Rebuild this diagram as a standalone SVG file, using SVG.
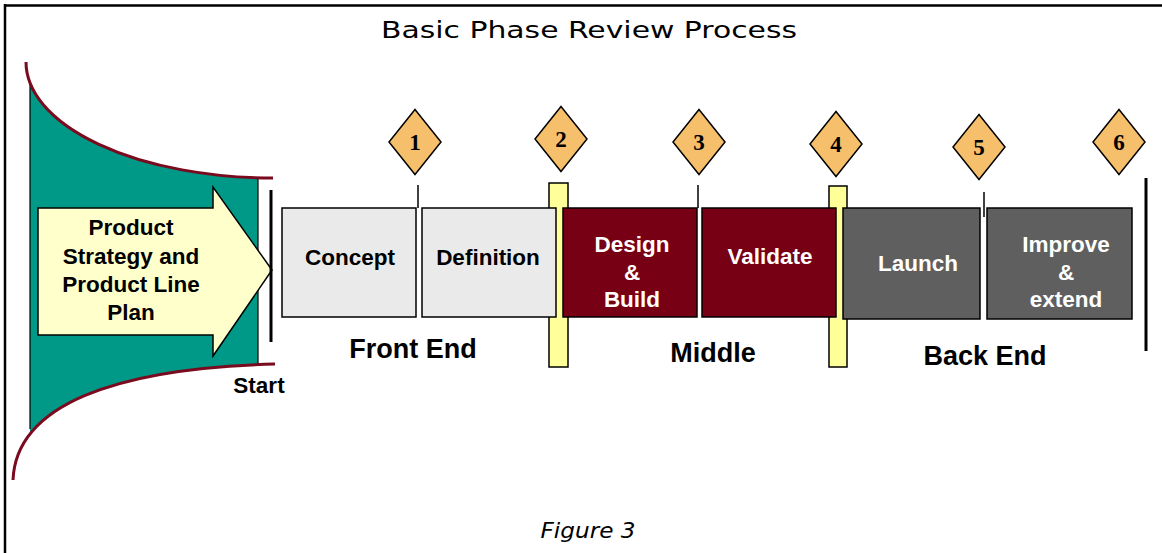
<svg xmlns="http://www.w3.org/2000/svg" width="1162" height="553" viewBox="0 0 1162 553">
<style>
.lbl{font-family:"Liberation Sans",Arial,sans-serif;font-weight:bold;font-size:22.5px;text-anchor:middle}
.sec{font-family:"Liberation Sans",Arial,sans-serif;font-weight:bold;font-size:27px;text-anchor:middle;fill:#000}
.num{font-family:"Liberation Serif","Times New Roman",serif;font-weight:bold;font-size:23px;text-anchor:middle;fill:#000}
.dia{fill:#F5BF6B;stroke:#000;stroke-width:1.5}
.bar{fill:#FFFF99;stroke:#000;stroke-width:1.5}
.grey{fill:#EAEAEA;stroke:#000;stroke-width:1.5}
.red{fill:#780014;stroke:#000;stroke-width:1.5}
.dark{fill:#5F5F5F;stroke:#000;stroke-width:1.5}
.tick{stroke:#000;stroke-width:1.5}
.curve{fill:none;stroke:#7A0A1E;stroke-width:3}
</style>
<defs>
<clipPath id="tealClip"><rect x="30" y="0" width="228" height="553"/></clipPath>
</defs>
<rect x="0" y="0" width="1162" height="553" fill="#fff"/>
<g id="frame">
<line x1="4" y1="5.5" x2="1162" y2="5.5" stroke="#000" stroke-width="2.5"/>
<line x1="5" y1="4" x2="5" y2="553" stroke="#000" stroke-width="2.5"/>
</g>
<text x="589" y="38" font-family="DejaVu Sans,Verdana,sans-serif" font-size="23.5" text-anchor="middle" textLength="416" lengthAdjust="spacingAndGlyphs">Basic Phase Review Process</text>
<g id="funnel">
<path d="M26,62 A247,116 0 0 0 273,178 L275,364 C115,368 16,405 13,480 Z" fill="#009886" clip-path="url(#tealClip)"/>
<line x1="30" y1="84" x2="30" y2="429" stroke="#000" stroke-width="1.2"/>
<line x1="258" y1="178" x2="258" y2="364" stroke="#000" stroke-width="1.2"/>
<path class="curve" d="M26,62 A247,116 0 0 0 273,178"/>
<path class="curve" d="M13,480 C16,405 115,368 275,364"/>
</g>
<g id="strategy">
<polygon points="38,208 213,208 213,187 272,270 213,356 213,335 38,335" fill="#FFFFCC" stroke="#000" stroke-width="1.5"/>
<text class="lbl" x="131" y="235">Product</text>
<text class="lbl" x="131" y="264">Strategy and</text>
<text class="lbl" x="131" y="292">Product Line</text>
<text class="lbl" x="131" y="320">Plan</text>
</g>
<g id="start">
<line x1="271" y1="190" x2="271" y2="342" stroke="#000" stroke-width="3"/>
<text class="lbl" x="259" y="393">Start</text>
</g>
<g id="end-line">
<line x1="1146" y1="178" x2="1146" y2="351" stroke="#000" stroke-width="3"/>
</g>
<g id="connectors">
<line class="tick" x1="418" y1="185" x2="418" y2="208"/>
<line class="tick" x1="698" y1="185" x2="698" y2="208"/>
<line class="tick" x1="984" y1="192" x2="984" y2="217"/>
</g>
<g id="gate2-bar"><rect class="bar" x="549" y="183" width="19" height="184"/></g>
<g id="gate4-bar"><rect class="bar" x="829" y="186" width="18" height="181"/></g>
<g id="concept">
<rect class="grey" x="282" y="208" width="134" height="109"/>
<text class="lbl" x="350" y="265" fill="#000">Concept</text>
</g>
<g id="definition">
<rect class="grey" x="422" y="208" width="134" height="109"/>
<text class="lbl" x="488" y="265" fill="#000">Definition</text>
</g>
<g id="design">
<rect class="red" x="563" y="208" width="134" height="109"/>
<text class="lbl" x="632" y="252" fill="#fff">Design</text>
<text class="lbl" x="632" y="280" fill="#fff">&amp;</text>
<text class="lbl" x="632" y="307" fill="#fff">Build</text>
</g>
<g id="validate">
<rect class="red" x="702" y="208" width="134" height="109"/>
<text class="lbl" x="770" y="264" fill="#fff">Validate</text>
</g>
<g id="launch">
<rect class="dark" x="843" y="208" width="137" height="111"/>
<text class="lbl" x="918" y="271" fill="#fff">Launch</text>
</g>
<g id="improve">
<rect class="dark" x="987" y="208" width="145" height="111"/>
<text class="lbl" x="1066" y="252" fill="#fff">Improve</text>
<text class="lbl" x="1066" y="280" fill="#fff">&amp;</text>
<text class="lbl" x="1066" y="307" fill="#fff">extend</text>
</g>
<g id="gate1"><polygon class="dia" points="415,109.5 441,142 415,174.5 389,142"/><text class="num" x="415" y="150">1</text></g>
<g id="gate2"><polygon class="dia" points="561,106.5 587,139 561,171.5 535,139"/><text class="num" x="561" y="147">2</text></g>
<g id="gate3"><polygon class="dia" points="699,109.5 725,142 699,174.5 673,142"/><text class="num" x="699" y="150">3</text></g>
<g id="gate4"><polygon class="dia" points="836,111.5 862,144 836,176.5 810,144"/><text class="num" x="836" y="152">4</text></g>
<g id="gate5"><polygon class="dia" points="979,114.5 1005,147 979,179.5 953,147"/><text class="num" x="979" y="155">5</text></g>
<g id="gate6"><polygon class="dia" points="1119,109.5 1145,142 1119,174.5 1093,142"/><text class="num" x="1119" y="150">6</text></g>
<g id="sections">
<text class="sec" x="413" y="358">Front End</text>
<text class="sec" x="713" y="362">Middle</text>
<text class="sec" x="985" y="365">Back End</text>
</g>
<text x="588" y="538" font-family="DejaVu Sans,Verdana,sans-serif" font-style="italic" font-size="22" text-anchor="middle" textLength="95" lengthAdjust="spacingAndGlyphs">Figure 3</text>
</svg>
